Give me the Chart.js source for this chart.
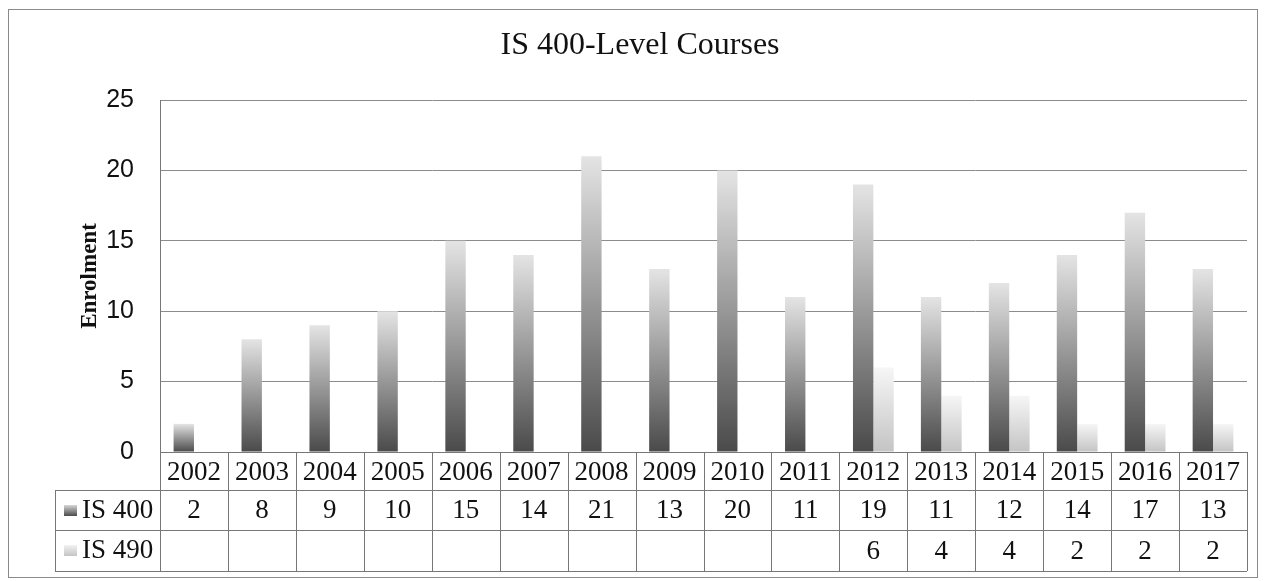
<!DOCTYPE html>
<html>
<head>
<meta charset="utf-8">
<style>
  html, body { margin: 0; padding: 0; background: #fff; }
  #wrap { width: 1265px; height: 581px; }
</style>
<script src="https://cdn.jsdelivr.net/npm/chart.js@4.4.1/dist/chart.umd.min.js"></script>
</head>
<body>
<div id="wrap"><canvas id="courses"></canvas></div>
<script>
const years = ['2002', '2003', '2004', '2005', '2006', '2007', '2008', '2009',
               '2010', '2011', '2012', '2013', '2014', '2015', '2016', '2017'];
const is400 = [2, 8, 9, 10, 15, 14, 21, 13, 20, 11, 19, 11, 12, 14, 17, 13];
const is490 = [null, null, null, null, null, null, null, null, null, null, 6, 4, 4, 2, 2, 2];
const yTicks = [0, 5, 10, 15, 20, 25];

const serif = '"Liberation Serif", "Times New Roman", serif';
const sans = '"Liberation Sans", Arial, sans-serif';

// vertical gradient per bar: dark at the bottom, fading at the top
function barFill(dark, light) {
  return (c) => {
    const chart = c.chart;
    const area = chart.chartArea;
    if (!area || c.type !== 'data' || c.raw == null) return dark;
    const top = chart.scales.y.getPixelForValue(c.raw);
    const g = chart.ctx.createLinearGradient(0, area.bottom, 0, top);
    g.addColorStop(0, dark);
    g.addColorStop(1, light);
    return g;
  };
}

const dark400 = ['#4a4a4a', '#e4e4e4'];
const dark490 = ['#c4c4c4', '#f6f6f6'];

// outer frame + data table under the plot
const dataTable = {
  id: 'dataTable',
  beforeDraw(chart) {
    const ctx = chart.ctx;
    ctx.save();
    ctx.strokeStyle = '#8a8a8a';
    ctx.lineWidth = 1;
    ctx.strokeRect(8.5, 9.5, 1249, 568);
    ctx.restore();
  },
  afterDraw(chart) {
    const ctx = chart.ctx;
    const x = chart.scales.x;
    const area = chart.chartArea;
    const step = x.getPixelForValue(1) - x.getPixelForValue(0);
    const left = area.left, right = area.right;
    const rows = [area.bottom, 490, 530, 571];
    const labelLeft = 55;

    ctx.save();
    ctx.strokeStyle = '#777';
    ctx.lineWidth = 1;
    ctx.beginPath();
    ctx.moveTo(left, rows[0] + 0.5); ctx.lineTo(right, rows[0] + 0.5);
    for (let r = 1; r < rows.length; r++) {
      ctx.moveTo(labelLeft, rows[r] + 0.5); ctx.lineTo(right, rows[r] + 0.5);
    }
    ctx.moveTo(labelLeft + 0.5, rows[1]); ctx.lineTo(labelLeft + 0.5, rows[3]);
    for (let i = 0; i <= years.length; i++) {
      const px = Math.round(x.getPixelForValue(i) - step / 2) + 0.5;
      ctx.moveTo(px, rows[0]); ctx.lineTo(px, rows[3]);
    }
    ctx.stroke();

    ctx.fillStyle = '#111';
    ctx.font = '27px ' + serif;
    ctx.textAlign = 'center';
    ctx.textBaseline = 'middle';
    years.forEach((yr, i) => {
      const cx = x.getPixelForValue(i);
      ctx.fillText(yr, cx, (rows[0] + rows[1]) / 2 + 2);
      if (is400[i] != null) ctx.fillText(String(is400[i]), cx, (rows[1] + rows[2]) / 2 + 1);
      if (is490[i] != null) ctx.fillText(String(is490[i]), cx, (rows[2] + rows[3]) / 2 + 1);
    });

    // row labels with legend keys
    const series = [['IS 400', dark400, rows[1]], ['IS 490', dark490, rows[2]]];
    ctx.textAlign = 'left';
    series.forEach(([name, cols, top]) => {
      const mid = top + 20;
      const g = ctx.createLinearGradient(0, mid + 6, 0, mid - 6);
      g.addColorStop(0, cols[0]);
      g.addColorStop(1, cols[1]);
      ctx.fillStyle = g;
      ctx.fillRect(64, mid - 5, 13, 11);
      ctx.fillStyle = '#111';
      ctx.fillText(name, 82, mid + 1);
    });
    ctx.restore();
  }
};

new Chart(document.getElementById('courses'), {
  type: 'bar',
  data: {
    labels: years,
    datasets: [{
      label: 'IS 400',
      data: is400,
      backgroundColor: barFill(dark400[0], dark400[1]),
      borderWidth: 0
    }, {
      label: 'IS 490',
      data: is490,
      backgroundColor: barFill(dark490[0], dark490[1]),
      borderWidth: 0
    }]
  },
  options: {
    responsive: true,
    maintainAspectRatio: false,
    animation: false,
    events: [],
    datasets: { bar: { categoryPercentage: 0.6, barPercentage: 1.0 } },
    layout: { padding: { top: 20, left: 33, right: 18, bottom: 129 } },
    plugins: {
      legend: { display: false },
      tooltip: { enabled: false },
      title: {
        display: true,
        text: 'IS 400-Level Courses',
        color: '#111',
        font: { family: serif, size: 32, weight: 'normal' },
        padding: { top: 6, bottom: 35.6 }
      }
    },
    scales: {
      x: {
        display: false
      },
      y: {
        min: 0,
        max: 25,
        afterFit: (s) => { s.width = 127; },
        afterBuildTicks: (s) => { s.ticks = yTicks.map(v => ({ value: v })); },
        ticks: {
          padding: 26,
          color: '#111',
          font: { family: sans, size: 25 }
        },
        grid: { color: '#8c8c8c', drawTicks: false },
        border: { display: true, color: '#777' },
        title: {
          display: true,
          text: 'Enrolment',
          color: '#111',
          font: { family: serif, size: 23, weight: 'bold' },
          padding: { top: 43, bottom: 0 }
        }
      }
    }
  },
  plugins: [dataTable]
});
</script>
</body>
</html>
